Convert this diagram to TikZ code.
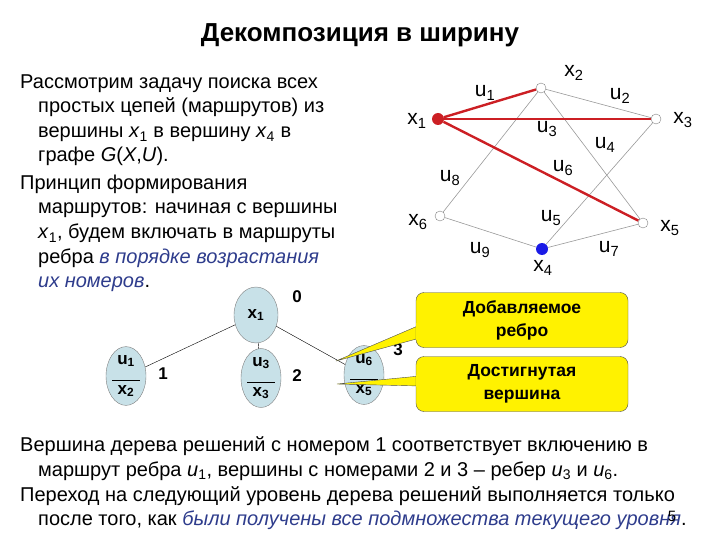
\documentclass[tikz,border=0pt]{standalone}
\usepackage{fontspec}
\setmainfont{Liberation Sans}
\usetikzlibrary{shapes.geometric}
\definecolor{ered}{HTML}{CC1F24}
\definecolor{eblue}{HTML}{1A1AE6}
\definecolor{ell}{HTML}{C8E1E8}
\definecolor{ybox}{HTML}{FFF200}
\definecolor{itb}{HTML}{2E3C8C}
\begin{document}
\begin{tikzpicture}[x=1pt,y=-1pt,
 txt/.style={anchor=base west,inner sep=0,font=\fontsize{20}{24}\selectfont},
 gl/.style={inner sep=0,font=\fontsize{21}{24}\selectfont},
 vtx/.style={circle,draw=gray,fill=white,minimum size=10pt,inner sep=0},
 ge/.style={draw=gray!80,line width=0.6pt},
 re/.style={draw=ered,line width=2.4pt},
 tn/.style={ellipse,draw=gray,fill=ell,inner sep=0,font=\bfseries\fontsize{17}{19}\selectfont},
 callout/.style={draw=black!70,fill=ybox,rounded corners=8pt,minimum width=212pt,minimum height=55pt,align=center,font=\bfseries\fontsize{17.5}{23}\selectfont},
 num/.style={inner sep=0,font=\bfseries\fontsize{17}{19}\selectfont}]
\useasboundingbox (0,0) rectangle (720,540);
\node[inner sep=0,font=\bfseries\fontsize{26}{30}\selectfont] (title) at (360,35) {Декомпозиция в ширину};
% left paragraph
\node[txt] (l1) at (20,89) {Рассмотрим задачу поиска всех};
\node[txt] (l2) at (38,113) {простых цепей (маршрутов) из};
\node[txt] (l3) at (38,138) {вершины \textit{x}\textsubscript{1} в вершину \textit{x}\textsubscript{4} в};
\node[txt] (l4) at (38,162) {графе \textit{G}(\textit{X},\textit{U}).};
\node[txt] (l5) at (20,190) {Принцип формирования};
\node[txt] (l6) at (38,214) {маршрутов: начиная с вершины};
\node[txt] (l7) at (38,239) {\textit{x}\textsubscript{1}, будем включать в маршруты};
\node[txt] (l8) at (38,263) {ребра \textcolor{itb}{\textit{в порядке возрастания}}};
\node[txt] (l9) at (38,287) {\textcolor{itb}{\textit{их номеров}}.};
% graph
\node[circle,fill=ered,minimum size=12pt,inner sep=0] (x1) at (438,119) {};
\node[vtx] (x2) at (541,88) {};
\node[vtx] (x3) at (656,119) {};
\node[circle,fill=eblue,minimum size=12pt,inner sep=0] (x4) at (542,249) {};
\node[vtx] (x5) at (643,223) {};
\node[vtx] (x6) at (440,216) {};
\draw[ge] (x2)--(x3);
\draw[ge] (x2)--(x5);
\draw[ge] (x2)--(x6);
\draw[ge] (x3)--(x4);
\draw[ge] (x4)--(x5);
\draw[ge] (x4)--(x6);
\draw[re] (x1)--(x2);
\draw[re] (x1)--(x3);
\draw[re] (x1)--(x5);
\node[gl] (lx1) at (417,121) {x\textsubscript{1}};
\node[gl] (lx2) at (574,73) {x\textsubscript{2}};
\node[gl] (lx3) at (683,120) {x\textsubscript{3}};
\node[gl] (lx4) at (543,268) {x\textsubscript{4}};
\node[gl] (lx5) at (670,228) {x\textsubscript{5}};
\node[gl] (lx6) at (418,222) {x\textsubscript{6}};
\node[gl] (lu1) at (485,93) {u\textsubscript{1}};
\node[gl] (lu2) at (620,96) {u\textsubscript{2}};
\node[gl] (lu3) at (547,129) {u\textsubscript{3}};
\node[gl] (lu4) at (605,145) {u\textsubscript{4}};
\node[gl] (lu6) at (563,168) {u\textsubscript{6}};
\node[gl] (lu8) at (450,178) {u\textsubscript{8}};
\node[gl] (lu5) at (551,218) {u\textsubscript{5}};
\node[gl] (lu9) at (480,250) {u\textsubscript{9}};
\node[gl] (lu7) at (609,249) {u\textsubscript{7}};
% tree
\node[tn,minimum width=44pt,minimum height=56pt] (t0) at (256,315) {x\textsubscript{1}};
\node[tn,minimum width=40pt,minimum height=53pt,align=center] (t1) at (126,376) {u\textsubscript{1}\\[-3pt]\rule{28pt}{0.6pt}\\[-5pt]x\textsubscript{2}};
\node[tn,minimum width=40pt,minimum height=53pt,align=center] (t2) at (261,378) {u\textsubscript{3}\\[-3pt]\rule{28pt}{0.6pt}\\[-5pt]x\textsubscript{3}};
\node[tn,minimum width=40pt,minimum height=53pt,align=center] (t3) at (364,375) {u\textsubscript{6}\\[-3pt]\rule{28pt}{0.6pt}\\[-5pt]x\textsubscript{5}};
\draw (t0)--(t1);
\draw (t0)--(t2);
\draw (t0)--(t3);
\node[num] (n0) at (297,297) {0};
\node[num] (n1) at (163,374) {1};
\node[num] (n2) at (297,376) {2};
\node[num] (n3) at (398,350) {3};
% callouts
\coordinate (p1) at (336,361);
\coordinate (p2) at (337,384);
\fill[ybox,draw=black!70] (p1)--(420,325)--(420,338)--cycle;
\fill[ybox,draw=black!70] (p2)--(420,376)--(420,386)--cycle;
\node[callout] (c1) at (522,320) {Добавляемое\\ребро};
\node[callout] (c2) at (522,384) {Достигнутая\\вершина};
\fill[ybox] (c1.west)++(0,3) rectangle ++(2,17);
\fill[ybox] (c2.west)++(0,-9) rectangle ++(2,12);
% bottom text
\node[txt] (b1) at (20,451) {Вершина дерева решений с номером 1 соответствует включению в};
\node[txt] (b2) at (38,476) {маршрут ребра \textit{u}\textsubscript{1}, вершины с номерами 2 и 3 -- ребер \textit{u}\textsubscript{3} и \textit{u}\textsubscript{6}.};
\node[txt] (b3) at (20,501) {Переход на следующий уровень дерева решений выполняется только};
\node[txt] (b4) at (38,525) {после того, как \textcolor{itb}{\textit{были получены все подмножества текущего уровня}}.};
\node[inner sep=0,font=\fontsize{15}{17}\selectfont] (pg) at (672,516) {5};
\end{tikzpicture}
\end{document}
